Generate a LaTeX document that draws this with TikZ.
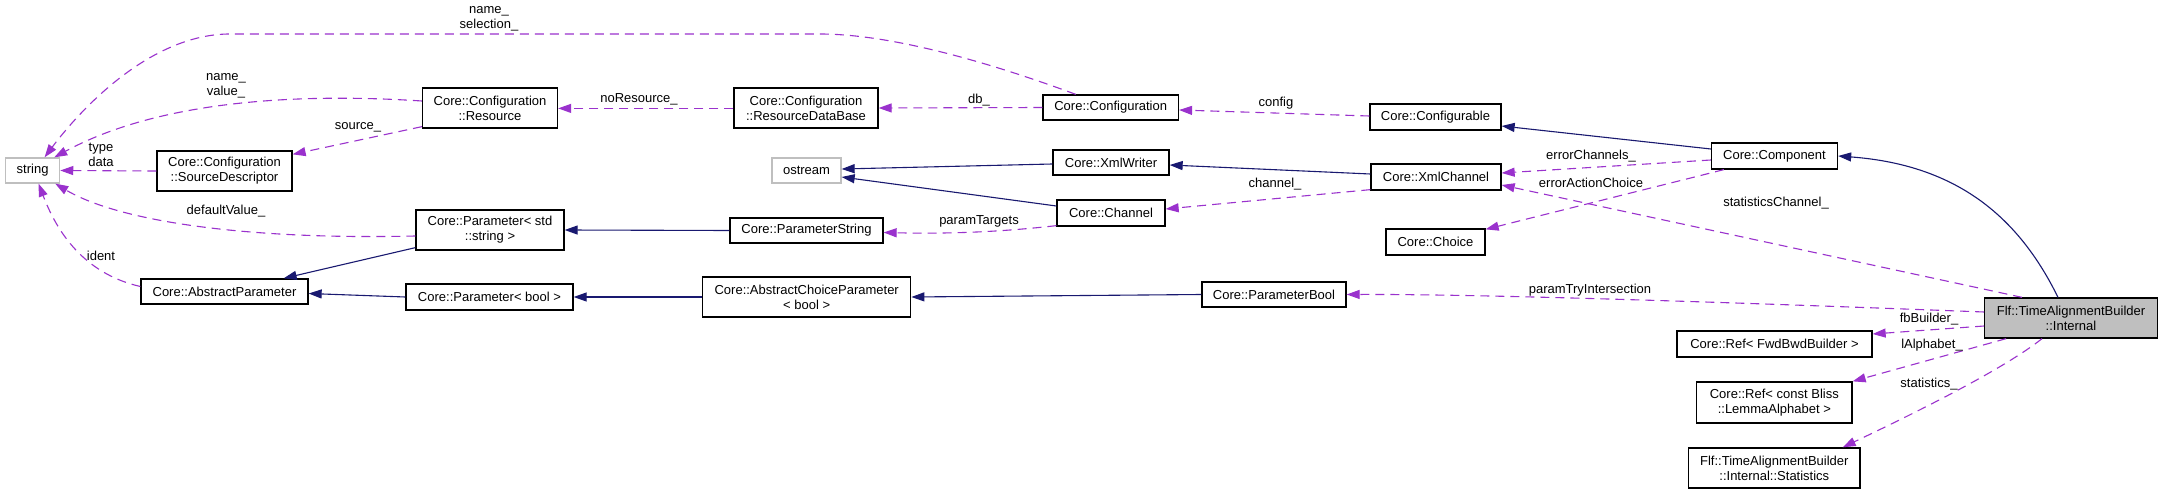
\documentclass[tikz,border=0pt]{standalone}
\usepackage{fontspec}
\setmainfont{Liberation Sans}
\usetikzlibrary{arrows.meta,calc}
\definecolor{edgeP}{HTML}{9A32CD}
\definecolor{edgeN}{HTML}{191970}
\definecolor{grayB}{HTML}{BFBFBF}
\begin{document}
\begin{tikzpicture}[x=1pt,y=-1pt,
 cls/.style={draw=black, line width=1.3pt, fill=white, inner sep=0pt, align=center, font=\fontsize{13}{15}\selectfont},
 ext/.style={cls, draw=grayB},
 lbl/.style={inner sep=0pt, align=center, font=\fontsize{13}{15}\selectfont},
 assoc/.style={draw=edgeP, line width=1.1pt, dash pattern=on 9pt off 6pt, -{Triangle[length=13pt,width=9pt]}},
 inh/.style={draw=edgeN, line width=1.1pt, -{Triangle[length=13pt,width=9pt]}},
]
\useasboundingbox[fill=white] (0,0) rectangle (2163,494);
% nodes
\node[ext, minimum width=54pt, minimum height=25pt] (str) at (32.6,170.5) {string};
\node[cls, minimum width=135pt, minimum height=40pt] (srcdesc) at (224.5,171) {Core::Configuration\\::SourceDescriptor};
\node[cls, minimum width=135pt, minimum height=40pt] (res) at (490,108) {Core::Configuration\\::Resource};
\node[cls, minimum width=148pt, minimum height=40pt] (pstr) at (490,230) {Core::Parameter< std\\::string >};
\node[cls, minimum width=167pt, minimum height=25pt] (absp) at (224.5,291.5) {Core::AbstractParameter};
\node[cls, minimum width=167pt, minimum height=26pt] (pbool) at (489.5,297) {Core::Parameter< bool >};
\node[cls, minimum width=208pt, minimum height=40pt] (acp) at (806.7,297) {Core::AbstractChoiceParameter\\< bool >};
\node[cls, minimum width=144pt, minimum height=40pt] (rdb) at (806,108) {Core::Configuration\\::ResourceDataBase};
\node[cls, minimum width=135.5pt, minimum height=25pt] (conf) at (1110.7,107.5) {Core::Configuration};
\node[cls, minimum width=131pt, minimum height=26pt] (cfgable) at (1435.5,117) {Core::Configurable};
\node[ext, minimum width=69pt, minimum height=25pt] (ostr) at (806.5,170.5) {ostream};
\node[cls, minimum width=116pt, minimum height=25pt] (xmlw) at (1111,162.5) {Core::XmlWriter};
\node[cls, minimum width=108pt, minimum height=26pt] (chan) at (1111,213) {Core::Channel};
\node[cls, minimum width=153pt, minimum height=25pt] (pstring) at (806.5,230.5) {Core::ParameterString};
\node[cls, minimum width=130pt, minimum height=26pt] (xmlc) at (1436,177) {Core::XmlChannel};
\node[cls, minimum width=99pt, minimum height=26pt] (choice) at (1435.5,242) {Core::Choice};
\node[cls, minimum width=126pt, minimum height=26pt] (comp) at (1774.5,156) {Core::Component};
\node[cls, minimum width=144pt, minimum height=25pt] (pbc) at (1274,294.5) {Core::ParameterBool};
\node[cls, fill=grayB, minimum width=172.5pt, minimum height=40pt] (intl) at (2071,318) {Flf::TimeAlignmentBuilder\\::Internal};
\node[cls, minimum width=195pt, minimum height=26pt] (fwd) at (1774.5,344) {Core::Ref< FwdBwdBuilder >};
\node[cls, minimum width=155.4pt, minimum height=41pt] (bliss) at (1774.3,402.5) {Core::Ref< const Bliss\\::LemmaAlphabet >};
\node[cls, minimum width=171.4pt, minimum height=40pt] (stats) at (1774.3,468) {Flf::TimeAlignmentBuilder\\::Internal::Statistics};
% edges
\draw[assoc] ($(conf.north)+(-35,0)$) .. controls (1010,70) and (900,34) .. (820,34) -- (230,34) .. controls (150,34) and (80,110) .. ($(str.north)+(12,0)$);
\node[lbl] (l1) at (489,19) {name\_\\selection\_};
\draw[assoc] ($(res.west)+(0,-7)$) .. controls (300,93) and (160,100) .. ($(str.north east)+(-6,0)$);
\node[lbl] (l2) at (226,86) {name\_\\value\_};
\draw[assoc] ($(res.south west)+(0,-2)$) -- ($(srcdesc.north east)+(0,4)$);
\node[lbl] (l3) at (358,127) {source\_};
\draw[assoc] (srcdesc.west) -- (str.east);
\node[lbl] (l4) at (101,155) {type\\data};
\draw[assoc] ($(pstr.west)+(0,6)$) .. controls (250,240) and (120,222) .. ($(str.south east)+(-5,0)$);
\node[lbl] (l5) at (226,211) {defaultValue\_};
\draw[assoc] ($(absp.west)+(0,-5)$) .. controls (90,275) and (60,240) .. ($(str.south)+(6,0)$);
\node[lbl] (l6) at (101,256) {ident};
\draw[inh] ($(pstr.south west)+(0,-3)$) -- ($(absp.north east)+(-25,0)$);
\draw[inh] (pbool.west) -- ($(absp.east)+(0,2)$);
\draw[inh] (acp.west) -- (pbool.east);
\draw[inh] (pbc.west) -- (acp.east);
\draw[inh] (pstring.west) -- (pstr.east);
\draw[assoc] ($(chan.south west)+(0,-1)$) .. controls (1000,232) and (950,234) .. ($(pstring.east)+(0,2)$);
\node[lbl] (l7) at (979,221) {paramTargets};
\draw[inh] ($(chan.west)+(0,-7)$) -- ($(ostr.east)+(0,6.5)$);
\draw[inh] ($(xmlw.west)+(0,1.5)$) -- ($(ostr.east)+(0,-1.5)$);
\draw[inh] ($(xmlc.west)+(0,-3)$) -- ($(xmlw.east)+(0,2.5)$);
\draw[assoc] ($(xmlc.south west)+(0,-1)$) -- ($(chan.east)+(0,-4)$);
\node[lbl] (l8) at (1275,184) {channel\_};
\draw[assoc] (conf.west) -- (rdb.east);
\node[lbl] (l9) at (979,100) {db\_};
\draw[assoc] ($(rdb.west)+(0,0.4)$) -- ($(res.east)+(0,0.4)$);
\node[lbl] (l10) at (639,99) {noResource\_};
\draw[assoc] ($(cfgable.west)+(0,-1)$) -- ($(conf.east)+(0,2.5)$);
\node[lbl] (l11) at (1276,103) {config};
\draw[inh] ($(comp.west)+(0,-7)$) -- ($(cfgable.east)+(0,9)$);
\draw[assoc] ($(comp.west)+(0,4)$) -- ($(xmlc.east)+(0,-4)$);
\node[lbl] (l12) at (1591,156) {errorChannels\_};
\draw[assoc] ($(comp.south west)+(13,0)$) -- ($(choice.north east)+(0,1)$);
\node[lbl] (l13) at (1591,183) {errorActionChoice};
\draw[assoc] ($(intl.north)+(-49,0)$) -- ($(xmlc.east)+(0,8)$);
\node[lbl] (l14) at (1776,203) {statisticsChannel\_};
\draw[inh] ($(intl.north)+(-13,0)$) .. controls (2020,220) and (1960,165) .. (comp.east);
\draw[assoc] ($(intl.west)+(0,-6)$) .. controls (1800,305) and (1500,294) .. (pbc.east);
\node[lbl] (l15) at (1590,290) {paramTryIntersection};
\draw[assoc] ($(intl.west)+(0,8)$) -- ($(fwd.east)+(0,-10)$);
\node[lbl] (l16) at (1929,319) {fbBuilder\_};
\draw[assoc] ($(intl.south west)+(22,0)$) -- (bliss.north east);
\node[lbl] (l17) at (1932,345) {lAlphabet\_};
\draw[assoc] ($(intl.south)+(-29,0)$) .. controls (2000,372) and (1900,420) .. ($(stats.north east)+(-18,0)$);
\node[lbl] (l18) at (1929,384) {statistics\_};
\end{tikzpicture}
\end{document}
